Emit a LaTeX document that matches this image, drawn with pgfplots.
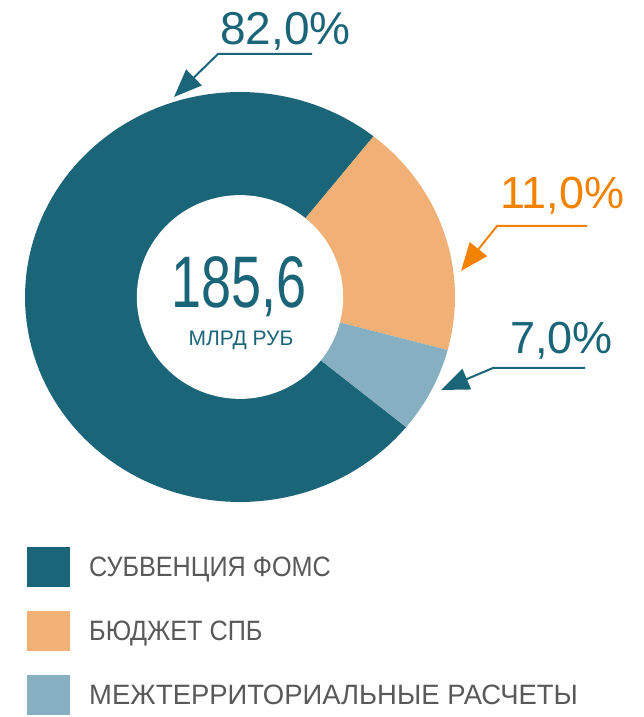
\documentclass[border=0pt]{standalone}
\usepackage{pgfplots}
\pgfplotsset{compat=1.18}
\usepackage{fontspec}
\setmainfont{Liberation Sans}
\newfontfamily\narrowfont[FakeStretch=0.74]{Liberation Sans}
\newfontfamily\legfont[FakeStretch=0.9]{Liberation Sans}
\newfontfamily\legwide[FakeStretch=0.98]{Liberation Sans}
\usetikzlibrary{arrows.meta}
\definecolor{cteal}{RGB}{27,101,120}
\definecolor{corange}{RGB}{240,176,118}
\definecolor{clight}{RGB}{134,176,193}
\definecolor{corangetxt}{RGB}{242,130,0}
\definecolor{cgray}{RGB}{89,89,89}
\begin{document}
\begin{tikzpicture}
\useasboundingbox (0,0) rectangle (644pt,717pt);
\begin{axis}[
  at={(25pt,215pt)}, anchor=south west,
  scale only axis, width=430pt, height=410pt,
  xmin=-1, xmax=1, ymin=-1, ymax=1,
  hide axis, clip=false,
  legend cell align=left,
  legend image code/.code={\fill (0pt,-20pt) rectangle (43pt,20pt);},
  legend style={draw=none, fill=none, inner sep=0pt,
    at={(axis description cs:0.0047,-0.1098)}, anchor=north west,
    row sep=24pt,
    nodes={inner sep=0pt, text=cgray, font=\legfont\fontsize{28}{28}\selectfont},
    /tikz/every odd column/.append style={column sep=19pt}},
]
% slices: start and end angles (degrees) as drawn
\addplot[fill=cteal, draw=none, domain=51.6:320.6, samples=120] ({cos(x)},{sin(x)}) -- (axis cs:0,0) -- cycle;
\addlegendentry{СУБВЕНЦИЯ ФОМС}
\addplot[fill=corange, draw=none, domain=-15.0:51.6, samples=40] ({cos(x)},{sin(x)}) -- (axis cs:0,0) -- cycle;
\addlegendentry{БЮДЖЕТ СПБ}
\addplot[fill=clight, draw=none, domain=-39.4:-15.0, samples=20] ({cos(x)},{sin(x)}) -- (axis cs:0,0) -- cycle;
\addlegendentry{{\legwide МЕЖТЕРРИТОРИАЛЬНЫЕ РАСЧЕТЫ}}
\addplot[fill=white, draw=none, domain=0:360, samples=120, forget plot] ({0.48*cos(x)},{0.497*sin(x)}) -- cycle;
\end{axis}
% center text
\node[anchor=base, text=cteal, font=\narrowfont\fontsize{73}{73}\selectfont, inner sep=0pt] at (239pt,409pt) {185,6};
\node[anchor=base, text=cteal, font=\fontsize{21}{21}\selectfont, inner sep=0pt] at (241pt,371pt) {МЛРД РУБ};
% percentage labels
\node[anchor=base west, text=cteal, font=\fontsize{46}{46}\selectfont, inner sep=0pt] at (220pt,672pt) {82,0\%};
\node[anchor=base west, text=corangetxt, font=\fontsize{45}{45}\selectfont, inner sep=0pt] at (500pt,508pt) {11,0\%};
\node[anchor=base west, text=cteal, font=\fontsize{45}{45}\selectfont, inner sep=0pt] at (510pt,363pt) {7,0\%};
% leaders
\draw[cteal, line width=2pt, -{Triangle[length=28pt,width=22pt]}] (312pt,663pt) -- (218pt,663pt) -- (174pt,620pt);
\draw[corangetxt, line width=2pt, -{Triangle[length=28pt,width=22pt]}] (587pt,491pt) -- (497pt,491pt) -- (461pt,446pt);
\draw[cteal, line width=2pt, -{Triangle[length=28pt,width=22pt]}] (585pt,349pt) -- (493pt,349pt) -- (441pt,327pt);
\end{tikzpicture}
\end{document}
